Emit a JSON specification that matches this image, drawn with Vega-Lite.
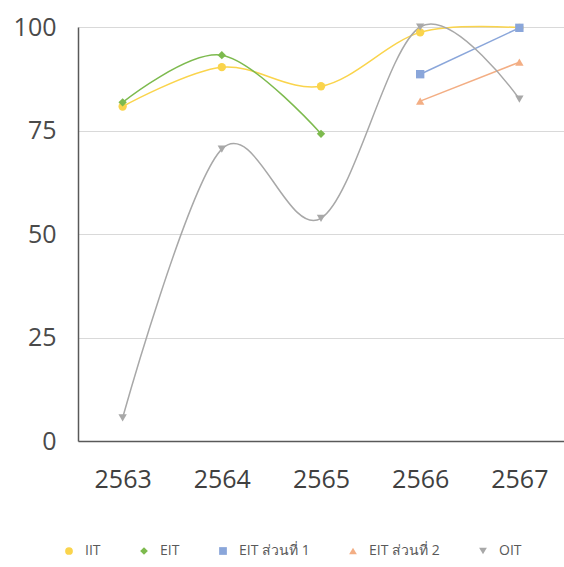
{
  "$schema": "https://vega.github.io/schema/vega-lite/v6.json",
  "width": 486,
  "height": 414,
  "autosize": "none",
  "padding": {"left": 78, "top": 27, "right": 0, "bottom": 126},
  "background": "white",
  "config": {
    "font": "Open Sans",
    "view": {"stroke": null}
  },
  "data": {
    "values": [
      {"year": "2563", "series": "IIT", "value": 80.8},
      {"year": "2564", "series": "IIT", "value": 90.3},
      {"year": "2565", "series": "IIT", "value": 85.7},
      {"year": "2566", "series": "IIT", "value": 98.7},
      {"year": "2567", "series": "IIT", "value": 99.8},
      {"year": "2563", "series": "EIT", "value": 81.8},
      {"year": "2564", "series": "EIT", "value": 93.2},
      {"year": "2565", "series": "EIT", "value": 74.2},
      {"year": "2566", "series": "EIT ส่วนที่ 1", "value": 88.6},
      {"year": "2567", "series": "EIT ส่วนที่ 1", "value": 99.8},
      {"year": "2566", "series": "EIT ส่วนที่ 2", "value": 82.1},
      {"year": "2567", "series": "EIT ส่วนที่ 2", "value": 91.5},
      {"year": "2563", "series": "OIT", "value": 5.6},
      {"year": "2564", "series": "OIT", "value": 70.5},
      {"year": "2565", "series": "OIT", "value": 53.8},
      {"year": "2566", "series": "OIT", "value": 100},
      {"year": "2567", "series": "OIT", "value": 82.6}
    ]
  },
  "encoding": {
    "x": {
      "field": "year",
      "type": "ordinal",
      "scale": {"type": "point", "padding": 0.45},
      "axis": {
        "title": null,
        "labelAngle": 0,
        "labelFontSize": 25,
        "labelColor": "#404040",
        "labelPadding": 26,
        "ticks": false,
        "domainColor": "#595959",
        "domainWidth": 1.5,
        "grid": false
      }
    },
    "y": {
      "field": "value",
      "type": "quantitative",
      "scale": {"domain": [0, 100], "nice": false},
      "axis": {
        "title": null,
        "values": [0, 25, 50, 75, 100],
        "labelFontSize": 25,
        "labelColor": "#4a4a4a",
        "labelPadding": 22,
        "ticks": false,
        "domainColor": "#595959",
        "domainWidth": 1.5,
        "gridColor": "#D9D9D9",
        "gridWidth": 1
      }
    },
    "color": {
      "field": "series",
      "type": "nominal",
      "sort": ["IIT", "EIT", "EIT ส่วนที่ 1", "EIT ส่วนที่ 2", "OIT"],
      "scale": {
        "domain": ["IIT", "EIT", "EIT ส่วนที่ 1", "EIT ส่วนที่ 2", "OIT"],
        "range": ["#FAD44C", "#7DBA4E", "#8AA6DA", "#F3AE84", "#A8A8A8"]
      },
      "legend": {
        "title": null,
        "orient": "none",
        "direction": "horizontal",
        "legendX": -16,
        "legendY": 517,
        "labelFontSize": 14,
        "labelColor": "#595959",
        "labelOffset": 9,
        "symbolSize": 60,
        "columnPadding": 36,
        "symbolStrokeWidth": 0
      }
    }
  },
  "layer": [
    {
      "mark": {"type": "line", "interpolate": "cardinal", "strokeWidth": 1.5},
      "encoding": {"detail": {"field": "series"}}
    },
    {
      "mark": {"type": "point", "filled": true, "size": 70, "opacity": 1},
      "encoding": {
        "shape": {
          "field": "series",
          "type": "nominal",
          "scale": {
            "domain": ["IIT", "EIT", "EIT ส่วนที่ 1", "EIT ส่วนที่ 2", "OIT"],
            "range": ["circle", "diamond", "square", "triangle-up", "triangle-down"]
          },
          "legend": {
            "title": null,
            "orient": "none",
            "direction": "horizontal",
            "legendX": -16,
            "legendY": 517,
            "labelFontSize": 14,
            "labelColor": "#595959",
            "labelOffset": 9,
            "symbolSize": 60,
            "columnPadding": 36,
            "symbolStrokeWidth": 0
          }
        }
      }
    }
  ]
}
